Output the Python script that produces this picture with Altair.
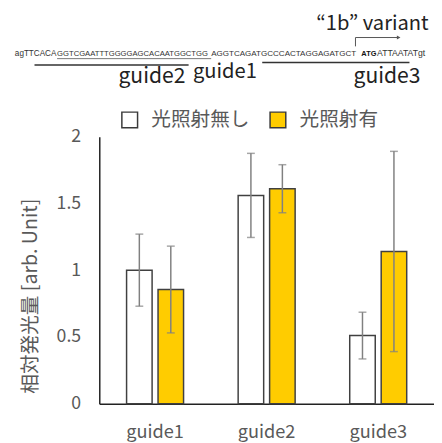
import altair as alt
import pandas as pd

guides = ["guide1", "guide2", "guide3"]
groups = ["光照射無し", "光照射有"]
no_light = [1.00, 1.56, 0.51]
no_light_err = [0.27, 0.315, 0.175]
light = [0.855, 1.61, 1.14]
light_err = [0.325, 0.18, 0.75]
y_ticks = [0, 0.5, 1, 1.5, 2]

seq_parts = ["agTTCACA", "GGTCGAATTTGGGGAGCACAATGGCTGG", "AGGTCAGATGCCCACTAGGAGATGCT", "ATG", "ATTAATATgt"]

rows = []
for i, g in enumerate(guides):
    rows.append(dict(guide=g, cond=groups[0], value=no_light[i], err=no_light_err[i]))
    rows.append(dict(guide=g, cond=groups[1], value=light[i], err=light_err[i]))
df = pd.DataFrame(rows)

FONT = "Noto Sans CJK JP"
GRAY = "#595959"

x_enc = alt.X("guide:N", sort=guides, scale=alt.Scale(paddingInner=0, paddingOuter=0),
              axis=alt.Axis(title=None, labelAngle=0, ticks=False, domainColor="#222222",
                            domainWidth=1.5, labelFontSize=18.5, labelColor=GRAY, labelPadding=19))
xo_enc = alt.XOffset("cond:N", sort=groups, scale=alt.Scale(paddingInner=0, paddingOuter=0.773))
y_scale = alt.Scale(domain=[0, 2], nice=False)

base = alt.Chart(df).transform_calculate(
    lo="datum.value - datum.err", hi="datum.value + datum.err"
)

bars = base.mark_bar(size=26, stroke="#404040", strokeWidth=1.5).encode(
    x=x_enc,
    xOffset=xo_enc,
    y=alt.Y("value:Q", scale=y_scale,
            axis=alt.Axis(values=y_ticks, format="~g", grid=False, ticks=False,
                          domainColor="#222222", domainWidth=1.5, labelFontSize=18,
                          labelColor=GRAY, labelPadding=19,
                          title="相対発光量 [arb. Unit]", titleFontSize=20,
                          titleColor=GRAY, titleFontWeight="normal", titleAngle=270,
                          titleX=-70, titleY=162, titleAlign="center",
                          titleBaseline="middle")),
    color=alt.Color("cond:N", sort=groups,
                    scale=alt.Scale(domain=groups, range=["#ffffff", "#ffcc00"]),
                    legend=alt.Legend(title=None, orient="none", legendX=21, legendY=-27,
                                      direction="horizontal", symbolType="square",
                                      symbolSize=256, symbolStrokeColor="#3a3a3a",
                                      symbolStrokeWidth=1.5, symbolOpacity=1,
                                      labelFontSize=20, labelColor=GRAY, labelFont=FONT,
                                      labelOffset=12, columnPadding=18, padding=0)),
)

err_rule = base.mark_rule(color="#808080", strokeWidth=1.5).encode(
    x=alt.X("guide:N", sort=guides), xOffset=xo_enc,
    y=alt.Y("lo:Q", scale=y_scale), y2="hi:Q")
cap_hi = base.mark_tick(color="#808080", size=8, thickness=1.5).encode(
    x=alt.X("guide:N", sort=guides), xOffset=xo_enc, y=alt.Y("hi:Q", scale=y_scale))
cap_lo = base.mark_tick(color="#808080", size=8, thickness=1.5).encode(
    x=alt.X("guide:N", sort=guides), xOffset=xo_enc, y=alt.Y("lo:Q", scale=y_scale))

one = alt.Data(values=[{}])


def txt(s, x, y, size, font=FONT, weight="normal", color="#222222", align="left"):
    return alt.Chart(one).mark_text(text=s, align=align, baseline="alphabetic",
                                    fontSize=size, font=font, fontWeight=weight,
                                    color=color).encode(x=alt.value(x), y=alt.value(y))


def line(x1, x2, y1, y2, color="#333333", w=1.5):
    return alt.Chart(one).mark_rule(color=color, strokeWidth=w).encode(
        x=alt.value(x1), x2=alt.value(x2), y=alt.value(y1), y2=alt.value(y2))


SEQF = "Liberation Sans"
SEQC = "#333333"
ann = [
    txt(seq_parts[0], -86, -82, 8.3, SEQF, color=SEQC),
    txt(seq_parts[1], -43, -82, 7.8, SEQF, color=SEQC),
    txt(seq_parts[2], 114, -82, 8.2, SEQF, color=SEQC),
    txt(seq_parts[3], 267, -82, 7.5, SEQF, "bold", "#111111"),
    txt(seq_parts[4], 283, -82, 8.8, SEQF, color=SEQC),
    line(-43, 114, -79.5, -79.5, "#555555", 0.8),
    line(-66, 91, -73, -73),
    line(166, 316, -75.5, -75.5),
    txt("guide2", 19.5, -55, 21.5),
    txt("guide1", 95.5, -60, 20.5),
    txt("guide3", 259, -55, 21.5),
    txt("“1b” variant", 221, -109, 20.5),
    line(261, 261, -101, -92, "#555555", 1),
    line(261, 304, -101, -101, "#555555", 1),
    alt.Chart(one).mark_point(shape="triangle-right", filled=True, size=18,
                              color="#555555", opacity=1).encode(
        x=alt.value(305), y=alt.value(-101)),
]

chart = alt.layer(bars, err_rule, cap_hi, cap_lo, *ann).properties(
    width=341, height=272,
    autosize=alt.AutoSizeParams(type="none"),
    padding={"left": 93, "top": 127, "right": 0, "bottom": 36},
).configure(font=FONT).configure_view(stroke=None)

chart.save("out.html", embed_options={"renderer": "svg", "actions": False})
